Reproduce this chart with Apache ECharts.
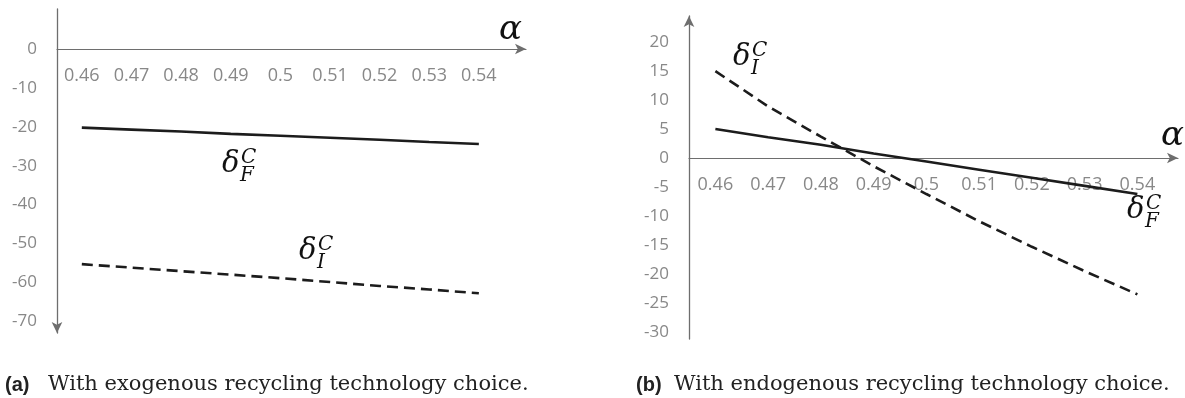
<!DOCTYPE html>
<html>
<head>
<meta charset="utf-8">
<script src="https://cdn.jsdelivr.net/npm/echarts@6/dist/echarts.min.js"></script>
<style>
html,body{margin:0;padding:0;background:#fff;}
#main{width:1185px;height:398px;}
</style>
</head>
<body>
<div id="main"></div>
<script>
// ---- data ----
const alphaValues = [0.46, 0.47, 0.48, 0.49, 0.50, 0.51, 0.52, 0.53, 0.54];
const yTicksA = [0, -10, -20, -30, -40, -50, -60, -70];
const yTicksB = [20, 15, 10, 5, 0, -5, -10, -15, -20, -25, -30];
// (a) exogenous
const deltaF_exo = [-20.2, -20.7, -21.2, -21.8, -22.3, -22.8, -23.3, -23.9, -24.4];
const deltaI_exo = [-55.3, -56.2, -57.1, -58.0, -58.9, -59.9, -60.9, -61.8, -62.8];
// (b) endogenous
const deltaF_endo = [5.0, 3.6, 2.3, 0.8, -0.6, -2.0, -3.4, -4.8, -6.2];
const deltaI_endo = [15.0, 8.9, 3.7, -1.4, -6.2, -10.9, -15.3, -19.5, -23.5];

const pairs = arr => alphaValues.map((x, i) => [x, arr[i]]);

const labelGray = '#888888';
const axisGray = '#6e6e6e';
const lineBlack = '#1c1c1c';
const tickFont = 'Open Sans';

function xAxisCfg(gi, min, max, offset) {
  return {
    gridIndex: gi, type: 'value', min: min, max: max, position: 'bottom', offset: offset,
    axisLine: { show: true, onZero: false, lineStyle: { color: axisGray, width: 1.2 },
      symbol: ['none', 'arrow'], symbolSize: [8, 11] },
    axisTick: { show: false },
    splitLine: { show: false },
    axisLabel: { customValues: alphaValues, formatter: v => String(+(+v).toFixed(2)),
      color: labelGray, fontSize: 18, fontFamily: tickFont, margin: 18 }
  };
}
function yAxisCfg(gi, min, max, ticks, sym) {
  return {
    gridIndex: gi, type: 'value', min: min, max: max,
    axisLine: { show: true, onZero: false, lineStyle: { color: axisGray, width: 1.3 },
      symbol: sym, symbolSize: [8, 11] },
    axisTick: { show: false },
    splitLine: { show: false },
    axisLabel: { customValues: ticks, color: labelGray, fontSize: 17, fontFamily: tickFont, margin: 20 }
  };
}
function lineSeries(xi, data, dashed) {
  return {
    type: 'line', xAxisIndex: xi, yAxisIndex: xi, data: pairs(data),
    showSymbol: false, symbol: 'none', silent: true, animation: false, z: 3,
    lineStyle: { color: lineBlack, width: 2.6, type: dashed ? [11, 6] : 'solid', cap: 'butt' }
  };
}
const mathFont = 'DejaVu Serif';
function txt(text, x, y, size) {
  return { type: 'text', x: x, y: y, silent: true,
    style: { text: text, font: 'italic ' + size + 'px "' + mathFont + '"', fill: '#111',
      align: 'left', verticalAlign: 'middle' } };
}
function delta(sub, x, y) {
  return [
    txt('δ', x, y, 29),
    txt('C', x + 19, y - 6, 20),
    txt(sub, x + 18, y + 12, 20)
  ];
}
function caption(tag, text, x, xt, y) {
  return [
    { type: 'text', x: x, y: y, silent: true,
      style: { text: tag, font: 'bold 20px "Liberation Sans"', fill: '#222', align: 'left', verticalAlign: 'middle' } },
    { type: 'text', x: xt, y: y, silent: true,
      style: { text: text, font: '21px "DejaVu Serif"', fill: '#222', align: 'left', verticalAlign: 'middle' } }
  ];
}

const chart = echarts.init(document.getElementById('main'), null, { renderer: 'canvas' });
chart.setOption({
  animation: false,
  backgroundColor: '#ffffff',
  grid: [
    { left: 57, top: 9, width: 469, height: 324 },
    { left: 689, top: 16, width: 489, height: 323 }
  ],
  xAxis: [ xAxisCfg(0, 0.455, 0.5495, -284), xAxisCfg(1, 0.455, 0.5477, -181) ],
  yAxis: [ yAxisCfg(0, -73, 10.3, yTicksA, ['arrow', 'none']),
           yAxisCfg(1, -31.2, 24.5, yTicksB, ['none', 'arrow']) ],
  series: [
    lineSeries(0, deltaF_exo, false),
    lineSeries(0, deltaI_exo, true),
    lineSeries(1, deltaF_endo, false),
    lineSeries(1, deltaI_endo, true)
  ],
  graphic: [
    txt('α', 499, 30, 34),
    txt('α', 1161, 136, 34),
    ...delta('F', 222, 164),
    ...delta('I', 299, 251),
    ...delta('I', 733, 57),
    ...delta('F', 1127, 210),
    ...caption('(a)', 'With exogenous recycling technology choice.', 5, 48, 385),
    ...caption('(b)', 'With endogenous recycling technology choice.', 636, 674, 385)
  ]
});
</script>
</body>
</html>
